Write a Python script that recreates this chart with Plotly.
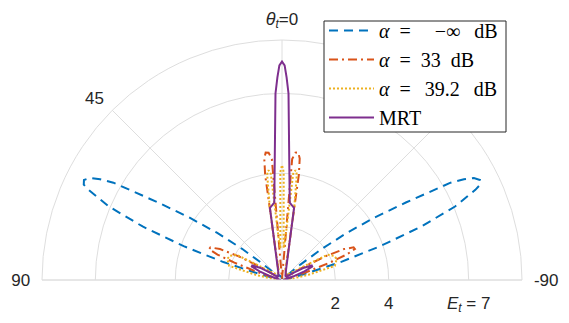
import plotly.graph_objects as go

# ---- data (theta in degrees, radial value E_t) ----
theta_blue = [-90, -85, -80, -77, -75, -73, -71, -69, -67, -65, -64.3, -63.2, -62, -61, -60, -58, -56, -54, -52, -50, -48, -46, -40, -30, -20, -10,
              0, 10, 20, 30, 40, 46, 48, 50, 52, 54, 56, 58, 60, 61, 62, 63.2, 64.3, 65, 67, 69, 71, 73, 75, 77, 80, 85, 90]
r_blue = [0.05, 0.1, 0.15, 0.3, 0.9, 2.3, 3.9, 5.6, 7.05, 8.0, 8.25, 8.32, 8.15, 7.8, 7.3, 5.5, 4.2, 3.0, 1.9, 0.9, 0.35, 0.25, 0.2, 0.2, 0.15, 0.1,
          0.05, 0.1, 0.15, 0.2, 0.2, 0.25, 0.35, 0.9, 1.9, 3.0, 4.2, 5.5, 7.3, 7.8, 8.15, 8.32, 8.25, 8.0, 7.05, 5.6, 3.9, 2.3, 0.9, 0.3, 0.15, 0.1, 0.05]

theta_orange = [-90, -80, -74.5, -72, -70, -68.5, -67, -65.5, -63.5, -61.5, -59, -56, -48, -40, -30, -20, -9.1, -8.3, -7.3, -6.0, -4.8, -4, -2,
                0, 2, 4, 4.8, 6.0, 7.3, 8.3, 9.1, 20, 30, 40, 48, 56, 59, 61.5, 63.5, 65.5, 67, 68.5, 70, 72, 74.5, 80, 90]
r_orange = [0.05, 0.1, 0.3, 1.0, 1.9, 2.6, 2.97, 2.95, 2.6, 1.9, 1.0, 0.3, 0.25, 0.25, 0.3, 0.4, 4.0, 4.6, 4.82, 4.8, 4.55, 0.15, 0.08,
            0.05, 0.08, 0.15, 4.55, 4.8, 4.82, 4.6, 4.0, 0.4, 0.3, 0.25, 0.25, 0.3, 1.0, 1.9, 2.6, 2.95, 2.97, 2.6, 1.9, 1.0, 0.3, 0.1, 0.05]

theta_yellow = [-90, -84, -79, -75, -69, -65, -61, -59, -55, -45, -30, -18, -12, -9.5, -8.0, -7.0, -6.0, -4.5, -3.0, -0.9,
                0, 0.9, 3.0, 4.5, 6.0, 7.0, 8.0, 9.5, 12, 18, 30, 45, 55, 59, 61, 65, 69, 75, 79, 84, 90]
r_yellow = [0.1, 0.3, 1.0, 2.05, 2.2, 2.15, 1.95, 1.2, 0.6, 0.3, 0.3, 0.4, 1.2, 2.8, 4.0, 4.15, 4.0, 1.5, 1.2, 4.05,
            4.31, 4.05, 1.2, 1.5, 4.0, 4.15, 4.0, 2.8, 1.2, 0.4, 0.3, 0.3, 0.6, 1.2, 1.95, 2.15, 2.2, 2.05, 1.0, 0.3, 0.1]

theta_mrt = [-90, -85, -76, -72, -69, -66, -64, -61, -58, -55, -40, -25, -9.5, -5.7, -2.0, -1.3, -0.7,
             0, 0.7, 1.3, 2.0, 5.7, 9.5, 25, 40, 55, 58, 61, 64, 66, 69, 72, 76, 85, 90]
r_mrt = [0.05, 0.1, 0.2, 0.45, 0.9, 1.24, 1.24, 0.95, 0.5, 0.2, 0.2, 0.33, 2.74, 2.92, 7.0, 7.6, 8.05,
         8.19, 8.05, 7.6, 7.0, 2.92, 2.74, 0.33, 0.2, 0.2, 0.5, 0.95, 1.24, 1.24, 0.9, 0.45, 0.2, 0.1, 0.05]

legend_names = ["<i>α</i>\u2002=\u2009\u2002\u2002−∞\u2002\u2009dB", "<i>α</i>\u2002=\u200233\u2002dB",
                "<i>α</i>\u2002=\u2009\u200239.2\u2002\u2009dB", "MRT"]

angular_ticks = [-90, -45, 0, 45, 90]
angular_text = ["-90", "", "<span style=\"font-size:18px\"><i>θ</i></span><sub><i>t</i></sub>=0", "45", "90"]
radial_ticks = [2, 4, 7]
radial_text = ["2", "4", "<i>E<sub>t</sub></i> = 7"]
r_max = 9

colors = ["#0072BD", "#D95319", "#EDB120", "#7E2F8E"]
dashes = ["9px,6px", "9px,4px,2px,4px", "2px,2px", "solid"]

fig = go.Figure()
series = [(theta_blue, r_blue), (theta_orange, r_orange), (theta_yellow, r_yellow), (theta_mrt, r_mrt)]
for (th, rr), name, c, d in zip(series, legend_names, colors, dashes):
    fig.add_trace(go.Scatterpolar(theta=th, r=rr, mode="lines", name=name,
                                  line=dict(color=c, width=2, dash=d)))

# page has an 8px body margin: figure coords = page coords - 8
W, H = 561, 315
OFF = 8
cx, cy, R = 282 - OFF, 280 - OFF, 240
grid = "#dedede"

# legend box (page coords)
bx0, by0, bx1, by1 = 324 - OFF, 21 - OFF, 506 - OFF, 132 - OFF
fig.add_shape(type="rect", xref="paper", yref="paper",
              x0=bx0 / W, x1=bx1 / W, y0=1 - by1 / H, y1=1 - by0 / H,
              fillcolor="white", line=dict(color="#262626", width=1), layer="above")

fig.update_layout(
    width=W, height=H,
    margin=dict(l=0, r=0, t=0, b=0),
    paper_bgcolor="white",
    showlegend=True,
    polar=dict(
        domain=dict(x=[(cx - R) / W, (cx + R) / W], y=[(H - cy) / H, (H - cy + R) / H]),
        sector=[0, 180],
        bgcolor="white",
        angularaxis=dict(rotation=90, direction="counterclockwise",
                         tickmode="array", tickvals=angular_ticks, ticktext=angular_text,
                         showgrid=True, gridcolor=grid, gridwidth=1,
                         showline=True, linecolor=grid, linewidth=1,
                         ticks="outside", ticklen=8, tickcolor="rgba(0,0,0,0)",
                         tickfont=dict(family="Liberation Sans", size=17, color="#262626")),
        radialaxis=dict(range=[0, r_max], tickmode="array", tickvals=radial_ticks, ticktext=radial_text,
                        angle=0, side="clockwise", showline=False,
                        ticks="outside", ticklen=8, tickcolor="rgba(0,0,0,0)",
                        showgrid=True, gridcolor=grid, gridwidth=1, tickangle=0,
                        tickfont=dict(family="Liberation Sans", size=17, color="#262626")),
    ),
    legend=dict(x=(324 - OFF) / W, y=1 - (11 - OFF) / H, xanchor="left", yanchor="top",
                bgcolor="rgba(0,0,0,0)", borderwidth=0, itemwidth=45,
                font=dict(family="Liberation Serif", size=20, color="#000000")),
)
fig.write_html("out.html")
